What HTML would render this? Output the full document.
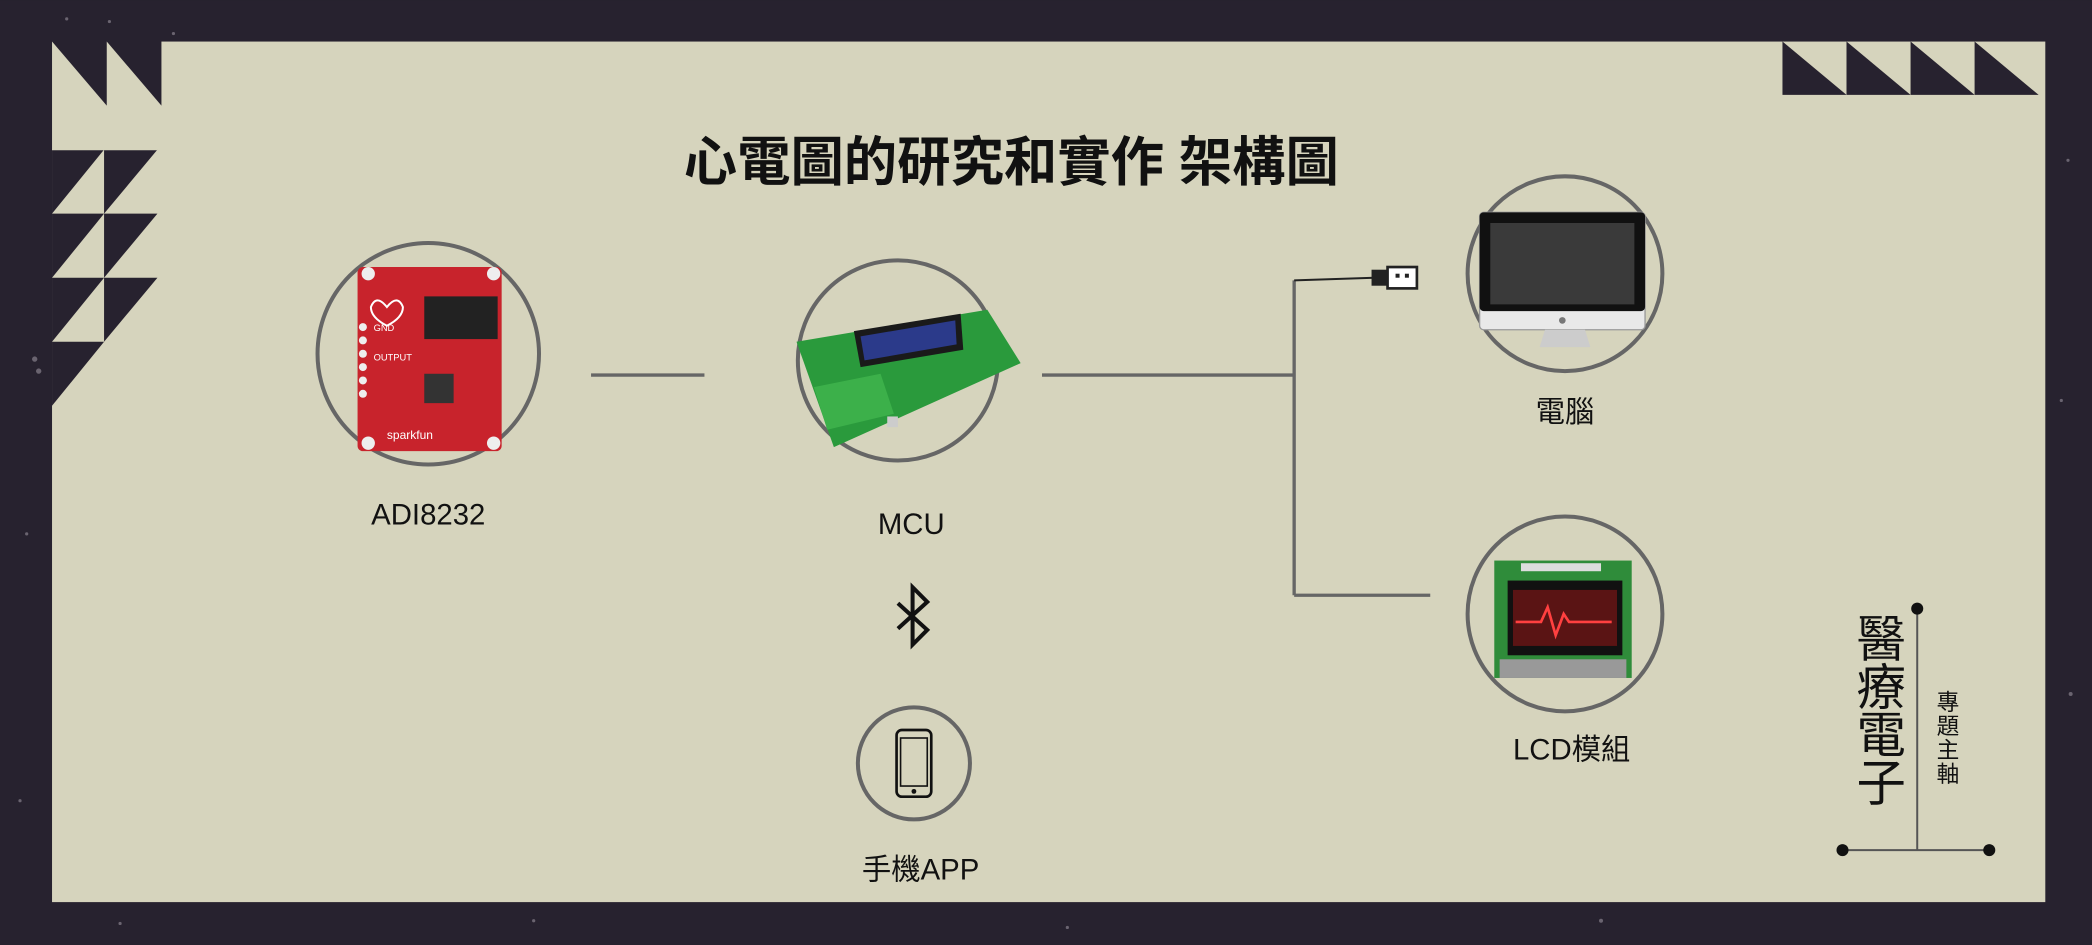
<!DOCTYPE html>
<html><head><meta charset="utf-8"><style>
html,body{margin:0;padding:0;background:#27222f;}
svg{display:block}
text{font-family:"Liberation Sans","Noto Sans CJK TC",sans-serif;fill:#111;}
</style></head><body>
<svg width="2092" height="945" viewBox="0 0 1568 708" xmlns="http://www.w3.org/2000/svg">
<rect width="1568" height="708" fill="#27222f"/>
<g fill="#6a6470">
<circle cx="50" cy="14" r="1.2"/><circle cx="82" cy="16" r="1.2"/><circle cx="130" cy="25" r="1.2"/><circle cx="1520" cy="45" r="1.5"/><circle cx="1550" cy="120" r="1.2"/><circle cx="1545" cy="300" r="1.2"/><circle cx="1552" cy="520" r="1.5"/><circle cx="20" cy="400" r="1.2"/><circle cx="15" cy="600" r="1.2"/><circle cx="400" cy="690" r="1.2"/><circle cx="800" cy="695" r="1.2"/><circle cx="1200" cy="690" r="1.5"/><circle cx="90" cy="692" r="1.2"/><circle cx="26" cy="269" r="2"/><circle cx="29" cy="278" r="2"/>
</g>
<rect x="39" y="31" width="1494" height="645" fill="#d6d4bd"/>
<g fill="#27222f">
<polygon points="39,31 80,31 80,79"/>
<polygon points="80,31 121,31 121,79"/>
<rect x="39" y="112" width="0" height="0"/>
<polygon points="39,112 78,112 39,160"/><polygon points="78,112 118,112 78,160"/>
<polygon points="39,160 78,160 39,208"/><polygon points="78,160 118,160 78,208"/>
<polygon points="39,208 78,208 39,256"/><polygon points="78,208 118,208 78,256"/>
<polygon points="39,256 78,256 39,304"/>
<polygon points="1336,31 1384,71 1336,71"/><polygon points="1384,31 1432,71 1384,71"/>
<polygon points="1432,31 1480,71 1432,71"/><polygon points="1480,31 1528,71 1480,71"/>
</g>
<!-- lines between triangles (bg visible) -->
<g stroke="#d6d4bd" stroke-width="1" fill="none">
<line x1="39" y1="112" x2="118" y2="112"/>
</g>
<text x="758" y="135" font-size="40" font-weight="bold" text-anchor="middle">心電圖的研究和實作 架構圖</text>

<!-- connectors -->
<g stroke="#666" stroke-width="2.5" fill="none">
<line x1="443" y1="281" x2="528" y2="281"/>
<line x1="781" y1="281" x2="970" y2="281"/>
<line x1="970" y1="210" x2="970" y2="446"/>
<line x1="970" y1="446" x2="1072" y2="446"/>
</g>
<line x1="970" y1="210" x2="1030" y2="208" stroke="#222" stroke-width="1.5"/>
<rect x="1028" y="202" width="12" height="12" fill="#222"/>
<rect x="1040" y="200" width="22" height="16" fill="#fff" stroke="#222" stroke-width="2"/>
<rect x="1046" y="205" width="3" height="3" fill="#222"/><rect x="1053" y="205" width="3" height="3" fill="#222"/>

<!-- circles -->
<g stroke="#666" stroke-width="3" fill="none">
<circle cx="321" cy="265" r="83"/>
<circle cx="673" cy="270" r="75"/>
<circle cx="685" cy="572" r="42"/>
<circle cx="1173" cy="205" r="73"/>
<circle cx="1173" cy="460" r="73"/>
</g>

<!-- ADI board -->
<rect x="268" y="200" width="108" height="138" rx="4" fill="#c8232c"/>
<rect x="318" y="222" width="55" height="32" fill="#222"/>
<rect x="318" y="280" width="22" height="22" fill="#333"/>
<g fill="#eee"><circle cx="276" cy="205" r="5"/><circle cx="370" cy="205" r="5"/><circle cx="276" cy="332" r="5"/><circle cx="370" cy="332" r="5"/>
<circle cx="272" cy="245" r="3"/><circle cx="272" cy="255" r="3"/><circle cx="272" cy="265" r="3"/><circle cx="272" cy="275" r="3"/><circle cx="272" cy="285" r="3"/><circle cx="272" cy="295" r="3"/></g>
<text x="280" y="248" font-size="7" style="fill:#fff">GND</text>
<text x="280" y="270" font-size="7" style="fill:#fff">OUTPUT</text>
<text x="290" y="329" font-size="9" style="fill:#fff">sparkfun</text>
<path d="M290 230 q-8 -10 -12 0 q0 8 12 14 q12 -6 12 -14 q-4 -10 -12 0z" fill="none" stroke="#fff" stroke-width="1.5"/>

<!-- MCU board -->
<polygon points="597,256 740,232 765,272 625,335" fill="#2a9a3c"/>
<polygon points="640,248 720,235 722,262 645,275" fill="#1a1a1a"/>
<polygon points="645,252 716,240 717,258 648,270" fill="#2b3a8a"/>
<polygon points="610,290 660,280 670,310 620,322" fill="#3cb04a"/>
<rect x="665" y="312" width="8" height="8" fill="#ccc"/>

<!-- phone -->
<rect x="672" y="547" width="26" height="50" rx="4" fill="none" stroke="#111" stroke-width="2"/>
<rect x="675" y="553" width="20" height="36" fill="none" stroke="#111" stroke-width="1.2"/>
<circle cx="685" cy="593" r="1.8" fill="#111"/>

<!-- bluetooth -->
<path d="M673 452 L695 472 L684 483 L684 440 L695 451 L673 471" fill="none" stroke="#111" stroke-width="3"/>

<!-- computer -->
<rect x="1109" y="159" width="124" height="88" rx="3" fill="#e9e9e9" stroke="#999" stroke-width="1"/>
<rect x="1109" y="159" width="124" height="74" rx="3" fill="#111"/>
<rect x="1117" y="167" width="108" height="61" fill="#3a3a3a"/>
<polygon points="1158,247 1188,247 1192,260 1154,260" fill="#ccc"/>
<circle cx="1171" cy="240" r="2.5" fill="#777"/>

<!-- LCD -->
<rect x="1120" y="420" width="103" height="88" fill="#2f8c3a"/>
<rect x="1130" y="435" width="86" height="56" fill="#111"/>
<rect x="1134" y="442" width="78" height="42" fill="#5a1414"/>
<path d="M1136 466 L1155 466 L1160 455 L1166 476 L1172 460 L1176 466 L1208 466" stroke="#ff4040" stroke-width="2" fill="none"/>
<rect x="1124" y="494" width="95" height="14" fill="#999"/>
<g fill="#ddd"><rect x="1140" y="422" width="60" height="6"/></g>

<!-- labels -->
<g font-size="22" text-anchor="middle">
<text x="321" y="393">ADI8232</text>
<text x="683" y="400">MCU</text>
<text x="690" y="659">手機APP</text>
<text x="1173" y="316">電腦</text>
<text x="1178" y="569">LCD模組</text>
</g>

<!-- logo -->
<g stroke="#555" stroke-width="1.5"><line x1="1437" y1="456" x2="1437" y2="637"/><line x1="1381" y1="637" x2="1491" y2="637"/></g>
<g fill="#111"><circle cx="1437" cy="456" r="4.5"/><circle cx="1381" cy="637" r="4.5"/><circle cx="1491" cy="637" r="4.5"/></g>
<g font-size="37" text-anchor="middle">
<text x="1410" y="492">醫</text><text x="1410" y="528">療</text><text x="1410" y="564">電</text><text x="1410" y="600">子</text>
</g>
<g font-size="17" text-anchor="middle">
<text x="1460" y="532">專</text><text x="1460" y="550">題</text><text x="1460" y="568">主</text><text x="1460" y="586">軸</text>
</g>
</svg>
</body></html>
